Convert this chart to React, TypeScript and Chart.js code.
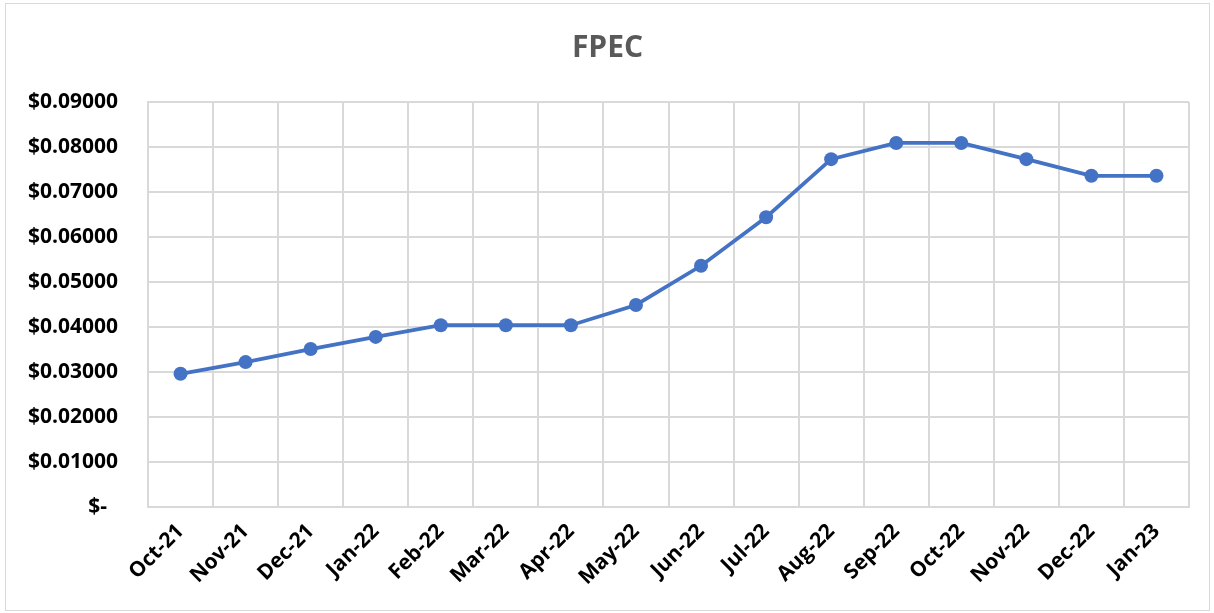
import React, { useEffect, useRef } from "react";
import { Chart, registerables } from "chart.js";

Chart.register(...registerables);

const categories = [
  "Oct-21", "Nov-21", "Dec-21", "Jan-22", "Feb-22", "Mar-22", "Apr-22", "May-22",
  "Jun-22", "Jul-22", "Aug-22", "Sep-22", "Oct-22", "Nov-22", "Dec-22", "Jan-23",
];

const fpecValues = [
  0.0296, 0.0322, 0.0351, 0.0378, 0.0404, 0.0404, 0.0404, 0.0449,
  0.0536, 0.0644, 0.0773, 0.0809, 0.0809, 0.0773, 0.0736, 0.0736,
];

const chartTitle = "FPEC";
const yMin = 0;
const yMax = 0.09;
const yStep = 0.01;

const FONT = "'Open Sans', 'DejaVu Sans', sans-serif";

export default function App() {
  const ref = useRef<HTMLCanvasElement | null>(null);

  useEffect(() => {
    if (!ref.current) return;
    const chart = new Chart(ref.current, {
      type: "line",
      data: {
        labels: categories,
        datasets: [
          {
            label: chartTitle,
            data: fpecValues,
            borderColor: "#4472C4",
            backgroundColor: "#4472C4",
            borderWidth: 3.75,
            pointRadius: 7,
            pointHoverRadius: 7,
            pointBackgroundColor: "#4472C4",
            pointBorderColor: "#4472C4",
            pointBorderWidth: 0,
            tension: 0,
          },
        ],
      },
      options: {
        responsive: false,
        animation: false,
        devicePixelRatio: 1,
        layout: { padding: 0 },
        plugins: {
          legend: { display: false },
          tooltip: { enabled: false },
          title: {
            display: true,
            text: chartTitle,
            color: "#595959",
            font: { family: FONT, size: 30, weight: "bold", lineHeight: 1.2 },
            padding: { top: 26, bottom: 36 },
          },
        },
        scales: {
          x: {
            offset: true,
            grid: { offset: true, color: "#d9d9d9", lineWidth: 2, drawTicks: false },
            border: { color: "#d9d9d9", width: 2 },
            ticks: {
              color: "#000000",
              font: { family: FONT, size: 21, weight: "bold" },
              minRotation: 45,
              maxRotation: 45,
              autoSkip: false,
              padding: 12,
            },
            afterFit: (scale: any) => {
              scale.height = 103;
            },
          },
          y: {
            min: yMin,
            max: yMax,
            grid: { color: "#d9d9d9", lineWidth: 2, drawTicks: false },
            border: { color: "#d9d9d9", width: 2 },
            ticks: {
              stepSize: yStep,
              color: "#000000",
              font: { family: FONT, size: 21, weight: "bold" },
              padding: 30,
              callback: (v: any) => {
                const n = Number(v);
                if (Math.abs(n) < 1e-9) return "$-  ";
                return "$" + n.toFixed(5);
              },
            },
            afterFit: (scale: any) => {
              scale.width = 142;
            },
          },
          ySpacer: {
            position: "right",
            display: true,
            min: yMin,
            max: yMax,
            grid: { display: false, drawTicks: false },
            border: { display: false },
            ticks: { display: false },
            afterFit: (scale: any) => {
              scale.width = 20;
            },
          },
        },
      },
    });
    return () => chart.destroy();
  }, []);

  return (
    <div
      style={{
        position: "absolute",
        left: 5,
        top: 3,
        width: 1203,
        height: 606,
        border: "1px solid #d9d9d9",
        background: "#ffffff",
      }}
    >
      <canvas ref={ref} width={1203} height={606} style={{ display: "block" }} />
    </div>
  );
}
